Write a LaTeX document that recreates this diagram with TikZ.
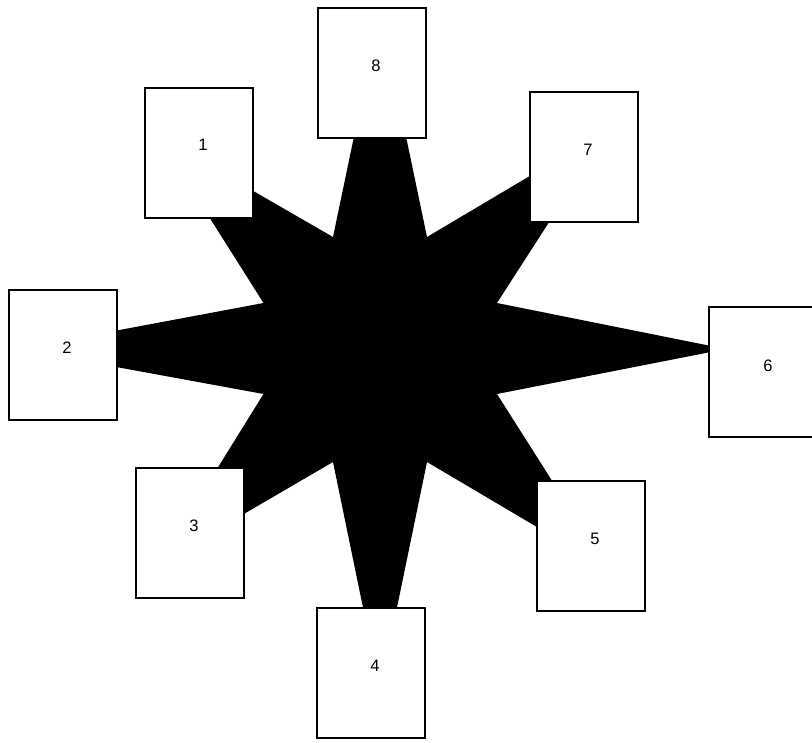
\documentclass[tikz,border=0pt]{standalone}
\usepackage{fontspec}
\setmainfont{Liberation Sans}

\begin{document}
\begin{tikzpicture}[x=0.0265cm,y=-0.0265cm,
  box/.style={draw,line width=1.5pt,fill=white,minimum width=2.86cm,minimum height=3.44cm,inner sep=0pt},
  num/.style={font=\fontsize{12.5pt}{14pt}\selectfont,inner sep=1pt}]

\clip (0,0) rectangle (812,742);

% the star
\fill[black] (380,12) -- (427,237) -- (609,129) -- (497,303) -- (726,349)
  -- (497,394) -- (608,569) -- (427,462) -- (380,690) -- (333,462)
  -- (158,564) -- (263.5,394) -- (18,349) -- (263.5,303) -- (158,136)
  -- (333,237) -- cycle;

% the boxes
\node[box] (b1) at (199,153) {};
\node[box] (b2) at (63,355) {};
\node[box] (b3) at (190,533) {};
\node[box] (b4) at (371,673) {};
\node[box] (b5) at (591,546) {};
\node[box] (b6) at (763,372) {};
\node[box] (b7) at (584,157) {};
\node[box] (b8) at (372,73) {};

\node[num] (n1) at ([shift={(4,-8)}]b1.center) {1};
\node[num] (n2) at ([shift={(4,-7)}]b2.center) {2};
\node[num] (n3) at ([shift={(4,-7)}]b3.center) {3};
\node[num] (n4) at ([shift={(4,-7)}]b4.center) {4};
\node[num] (n5) at ([shift={(4,-7)}]b5.center) {5};
\node[num] (n6) at ([shift={(5,-6)}]b6.center) {6};
\node[num] (n7) at ([shift={(4,-7)}]b7.center) {7};
\node[num] (n8) at ([shift={(4,-7)}]b8.center) {8};

\end{tikzpicture}
\end{document}
